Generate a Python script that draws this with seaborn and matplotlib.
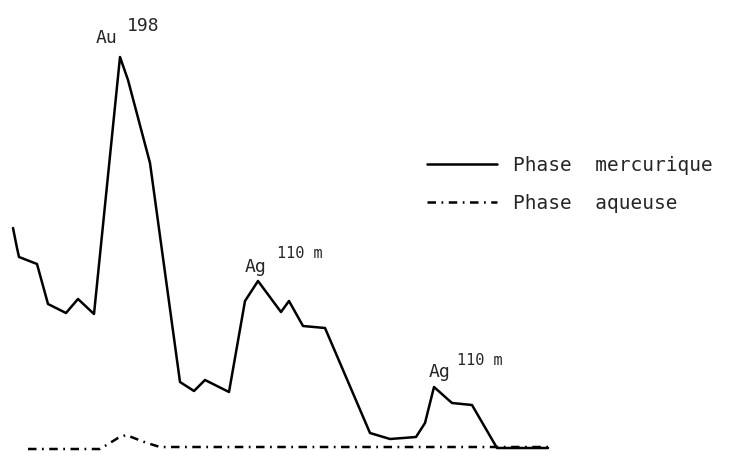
import pandas as pd
import matplotlib.pyplot as plt
import seaborn as sns

# canal (abscisse) et nombre de coups
canal_hg = [13, 17, 19, 37, 48, 66, 78, 94, 120, 128, 150, 180, 194, 205, 229, 245, 258,
            281, 289, 303, 325, 370, 390, 416, 425, 434, 452, 472, 497, 548]
coups_hg = [223, 203, 194, 187, 147, 138, 152, 137, 394, 371, 288, 69, 60, 71, 59, 150, 170,
            139, 150, 125, 123, 18, 12, 14, 28, 64, 48, 46, 3, 3]

canal_aq = [28, 100, 118, 126, 147, 160, 548]
coups_aq = [2, 2, 13, 16, 8, 4, 4]

lbl_hg = "Phase  mercurique"
lbl_aq = "Phase  aqueuse"

# pics annotes : (texte, exposant, x, y, x exposant, y exposant, taille exposant)
pics = [
    ("Au", "198", 96, 408, 127, 420, 13),
    ("Ag", "110 m", 245, 179, 277, 193, 11),
    ("Ag", "110 m", 429, 74, 457, 86, 11),
]

df = pd.concat([
    pd.DataFrame({"canal": canal_hg, "coups": coups_hg, "phase": lbl_hg}),
    pd.DataFrame({"canal": canal_aq, "coups": coups_aq, "phase": lbl_aq}),
], ignore_index=True)

sns.set_style("white")
plt.rcParams["font.family"] = ["DejaVu Sans Mono", "DejaVu Sans"]

fig = plt.figure(figsize=(7.33, 4.51), dpi=100)
ax = fig.add_axes([0, 0, 1, 1])

sns.lineplot(data=df, x="canal", y="coups", style="phase",
             dashes={lbl_hg: "", lbl_aq: (3.4, 2.2, 0.7, 2.2)},
             color="black", linewidth=1.8, sort=False, estimator=None, ax=ax)

ax.set_xlim(0, 733)
ax.set_ylim(0, 451)
ax.axis("off")

for txt, sup, x, y, xs, ys, fs in pics:
    ax.text(x, y, txt, fontsize=13, ha="left", va="baseline")
    ax.text(xs, ys, sup, fontsize=fs, ha="left", va="baseline")

handles, labels = ax.get_legend_handles_labels()
ax.legend(handles, labels, loc="upper left", bbox_to_anchor=(0.582, 0.655),
          frameon=False, fontsize=14, handlelength=3.6, handletextpad=0.85,
          labelspacing=1.0, borderpad=0, borderaxespad=0)

plt.savefig("out.png", dpi=100)
